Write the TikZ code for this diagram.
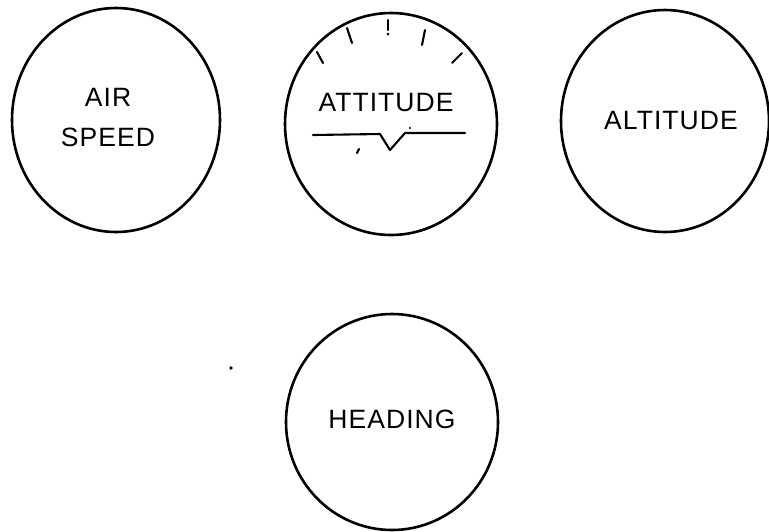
\documentclass[tikz,border=0pt]{standalone}
\usepackage{fontspec}
\setmainfont{Liberation Sans}[LetterSpace=4]
\begin{document}
\begin{tikzpicture}[x=1pt,y=-1pt,
  dial/.style={line width=2.6pt},
  lbl/.style={font=\fontsize{26.5}{40}\selectfont,align=center,inner sep=0pt},
  tickline/.style={line width=2.1pt,line cap=round}]
\useasboundingbox (0,0) rectangle (769,531);
\draw[dial] (116,120) ellipse [x radius=104,y radius=112];
\draw[dial] (391,124) ellipse [x radius=106,y radius=111];
\draw[dial] (665,121) ellipse [x radius=104,y radius=111];
\draw[dial] (392,422) ellipse [x radius=106,y radius=108];
\node[lbl] (as) at (108,118) {AIR\\SPEED};
\node[lbl] (at) at (386,103) {ATTITUDE};
\node[lbl] (al) at (671,121) {ALTITUDE};
\node[lbl] (hd) at (392,419) {HEADING};
% attitude ticks
\draw[tickline] (388,20) -- (388,30);
\fill (388,34) circle (1.5);
\draw[tickline] (347,28) -- (352,43);
\draw[tickline] (425,30) -- (422,45);
\draw[tickline] (317,52) -- (323,63);
\draw[tickline] (462,53) -- (452,63);
% horizon
\draw[tickline,line join=round] (313,135) -- (380,134) -- (390,150) -- (405,133) -- (465,133);
\draw[tickline] (357,153) -- (359,149);
\fill (410,128) circle (1.2);
\fill (231,368) circle (1.8);
\end{tikzpicture}
\end{document}
